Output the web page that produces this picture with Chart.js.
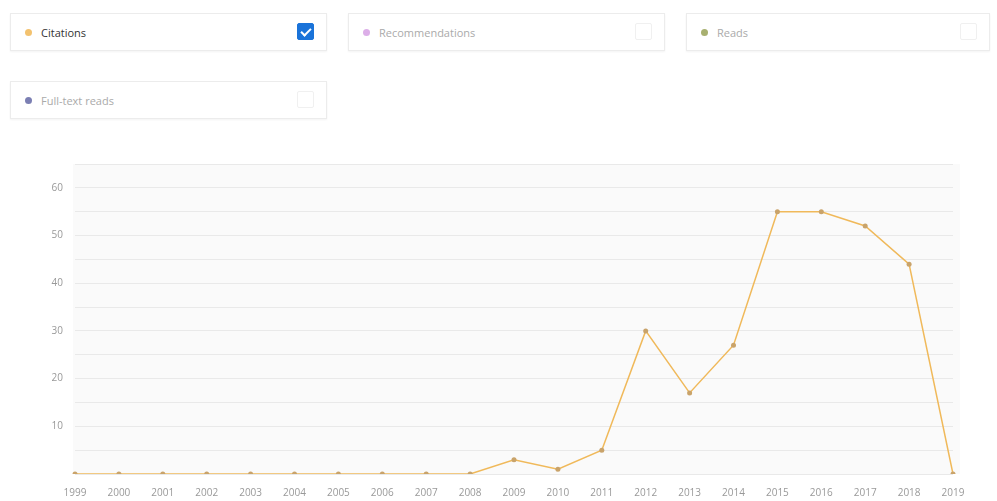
<!DOCTYPE html>
<html>
<head>
<meta charset="utf-8">
<script src="https://cdn.jsdelivr.net/npm/chart.js@4"></script>
<style>
    body { margin: 0; width: 997px; height: 501px; background: #fff; font-family: "Open Sans", sans-serif; overflow: hidden; position: relative; }
    .legendBox { position: absolute; height: 38px; border: 1px solid #ececec; box-shadow: 0 1px 2px rgba(0,0,0,0.05); background: #fff; box-sizing: border-box; }
    .legendBox .dot { position: absolute; left: 14px; top: 15px; width: 7px; height: 7px; border-radius: 50%; }
    .legendBox .lbl { position: absolute; left: 30px; top: 11px; font-size: 11px; color: #aaa; }
    .legendBox.active .lbl { color: #333; }
    .legendBox .check { position: absolute; right: 12px; top: 9px; width: 17px; height: 17px; border: 1px solid #f0f0f0; border-radius: 2px; box-sizing: border-box; }
    .legendBox.active .check { background: #1a73d9; border-color: #1a73d9; }
    .legendBox.active .check::after { content: ""; position: absolute; left: 5px; top: 2px; width: 4px; height: 8px; border: solid #fff; border-width: 0 2px 2px 0; transform: rotate(45deg); }
    #wrap { position: absolute; left: 0; top: 146px; width: 997px; height: 360px; }
</style>
</head>
<body>
<div id="legend"></div>
<div id="wrap"><canvas id="statsChart"></canvas></div>
<script>
const years = ["1999", "2000", "2001", "2002", "2003", "2004", "2005", "2006", "2007", "2008",
    "2009", "2010", "2011", "2012", "2013", "2014", "2015", "2016", "2017", "2018", "2019"];
const citations = [0, 0, 0, 0, 0, 0, 0, 0, 0, 0, 3, 1, 5, 30, 17, 27, 55, 55, 52, 44, 0];

const legendLabels = ["Citations", "Recommendations", "Reads", "Full-text reads"];
const legendColors = ["#f3c26f", "#dcaee8", "#a8b070", "#7b7fb3"];
const legendActive = [true, false, false, false];

// caixas da legenda
const boxPos = [[10, 13, 317], [348, 13, 317], [686, 13, 304], [10, 81, 317]];
const legend = document.getElementById("legend");
legendLabels.forEach((label, i) => {
    const box = document.createElement("div");
    box.className = "legendBox" + (legendActive[i] ? " active" : "");
    box.style.left = boxPos[i][0] + "px";
    box.style.top = boxPos[i][1] + "px";
    box.style.width = boxPos[i][2] + "px";
    box.innerHTML = `<span class="dot" style="background:${legendColors[i]}"></span><span class="lbl">${label}</span><span class="check"></span>`;
    legend.appendChild(box);
});

const plotBg = {
    id: "plotBg",
    beforeDraw(chart) {
        const { ctx, chartArea } = chart;
        ctx.save();
        ctx.fillStyle = "#fafafa";
        ctx.fillRect(chartArea.left - 2, chartArea.top, chartArea.right - chartArea.left + 9, chartArea.bottom - chartArea.top);
        ctx.restore();
    },
};

const ctx = document.getElementById("statsChart").getContext("2d");
new Chart(ctx, {
    type: "line",
    data: {
        labels: years,
        datasets: [{
            label: "Citations",
            data: citations,
            borderColor: "#f0b95a",
            backgroundColor: "#c9a36a",
            borderWidth: 1.5,
            pointRadius: 2.5,
            pointBorderWidth: 0,
            tension: 0,
            fill: false,
        }],
    },
    options: {
        responsive: true,
        maintainAspectRatio: false,
        animation: false,
        layout: { padding: { left: 0, right: 44, top: 5, bottom: 2 } },
        plugins: {
            legend: { display: false },
            tooltip: { enabled: false },
        },
        scales: {
            x: {
                offset: false,
                grid: { display: false },
                border: { display: false },
                ticks: {
                    autoSkip: false,
                    maxRotation: 0,
                    color: "#999",
                    font: { family: "Open Sans", size: 10 },
                    padding: 5,
                },
            },
            y: {
                min: 0,
                max: 65,
                afterFit(scale) { scale.width = 75; },
                grid: { color: "#e9e9e9", drawTicks: false },
                border: { display: false },
                ticks: {
                    stepSize: 5,
                    color: "#999",
                    font: { family: "Open Sans", size: 10 },
                    padding: 12,
                    callback: (v) => (v % 10 === 0 && v !== 0 ? v : ""),
                },
            },
        },
    },
    plugins: [plotBg],
});
</script>
</body>
</html>
